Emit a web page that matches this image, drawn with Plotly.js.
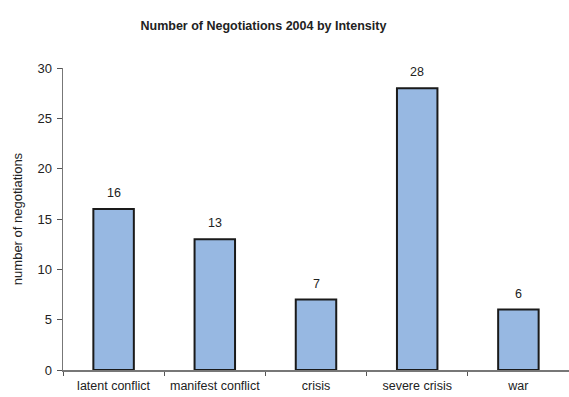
<!DOCTYPE html>
<html><head><meta charset="utf-8">
<script src="https://cdn.plot.ly/plotly-3.0.1.min.js"></script>
<style>html,body{margin:0;padding:0;background:#fff}</style>
</head><body>
<div id="chart" style="width:569px;height:397px"></div>
<script>
var categories = ["latent conflict", "manifest conflict", "crisis", "severe crisis", "war"];
var negotiations = [16, 13, 7, 28, 6];
var yTicks = [0, 5, 10, 15, 20, 25, 30];

var FONT = "Liberation Sans Narrow, Arial Narrow, Liberation Sans, Arial, sans-serif";

var trace = {
  type: "bar",
  x: categories,
  y: negotiations,
  width: 0.4,
  marker: {color: "#97b8e2", line: {color: "#1a1a1a", width: 2}},
  hoverinfo: "none"
};

var annotations = categories.map(function(c, i){
  return {x: c, y: negotiations[i], text: String(negotiations[i]), showarrow: false,
          yanchor: "bottom", yshift: 7, font: {family: FONT, size: 12.5, color: "#222"}};
});

var layout = {
  width: 569, height: 397,
  margin: {l: 63, r: 0, t: 68, b: 27},
  paper_bgcolor: "#fff", plot_bgcolor: "#fff",
  showlegend: false,
  title: {text: "<b>Number of Negotiations 2004 by Intensity</b>", x: 0.463, xanchor: "center", y: 0.935, yanchor: "middle",
          font: {family: FONT, size: 12.5, color: "#222"}},
  xaxis: {
    type: "category", tickson: "boundaries", ticks: "outside", ticklen: 4, tickcolor: "#555", tickwidth: 1,
    showline: true, linecolor: "#777", linewidth: 1.5, showgrid: false, zeroline: false,
    range: [-0.5, 4.5], ticklabelstandoff: 3,
    tickfont: {family: FONT, size: 12.5, color: "#222"}
  },
  yaxis: {
    range: [0, 30], tickvals: yTicks, ticks: "outside", ticklen: 5, tickcolor: "#555", tickwidth: 1,
    showline: true, linecolor: "#777", linewidth: 1.5, showgrid: false, zeroline: false,
    ticklabelstandoff: 2,
    tickfont: {family: FONT, size: 13, color: "#222"},
    title: {text: "number of negotiations", standoff: 12, font: {family: FONT, size: 13, color: "#222"}}
  },
  annotations: annotations
};

Plotly.newPlot("chart", [trace], layout, {displayModeBar: false, staticPlot: true});
</script>
</body></html>
